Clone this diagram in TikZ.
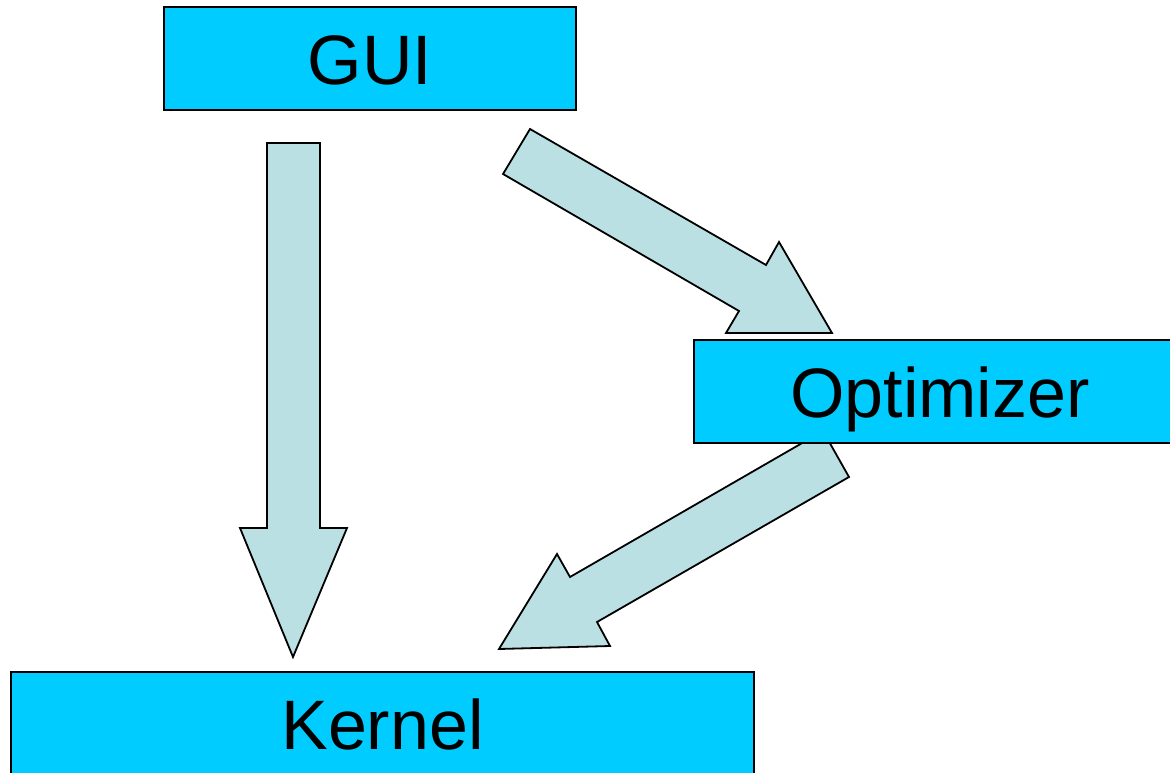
\documentclass[tikz,border=0pt]{standalone}
\usepackage{fontspec}
\setmainfont{Liberation Sans}
\definecolor{boxcyan}{RGB}{0,204,255}
\definecolor{arrowfill}{RGB}{187,224,227}
\begin{document}
\begin{tikzpicture}[x=1pt,y=-1pt,
  blockbox/.style={draw=black,line width=1.5pt,fill=boxcyan,inner sep=0pt,
    text height=52pt,text depth=0pt,
    font=\fontsize{70}{84}\selectfont},
  blockarrow/.style={draw=black,line width=1.8pt,fill=arrowfill,line join=miter}]
\useasboundingbox (0,0) rectangle (1170,773);
% block arrows (drawn first, boxes on top)
\draw[blockarrow] (267,143) -- (320,143) -- (320,528) -- (347,528) -- (293,657)
  -- (240,528) -- (267,528) -- cycle;
\draw[blockarrow] (530,129) -- (766,265) -- (779,242) -- (832,333) -- (726,333)
  -- (739,311) -- (503,174) -- cycle;
\draw[blockarrow] (823,431) -- (849,477) -- (597,622) -- (610,646) -- (499,649)
  -- (557,554) -- (570,577) -- cycle;
% boxes
\node[blockbox,minimum width=412pt,minimum height=103pt] (gui) at (370,58.5) {GUI};
\node[blockbox,minimum width=492pt,minimum height=103pt] (opt) at (940,391.5) {Optimizer};
\node[blockbox,minimum width=743pt,minimum height=103pt] (kernel) at (382.5,723.5) {Kernel};
\end{tikzpicture}
\end{document}
